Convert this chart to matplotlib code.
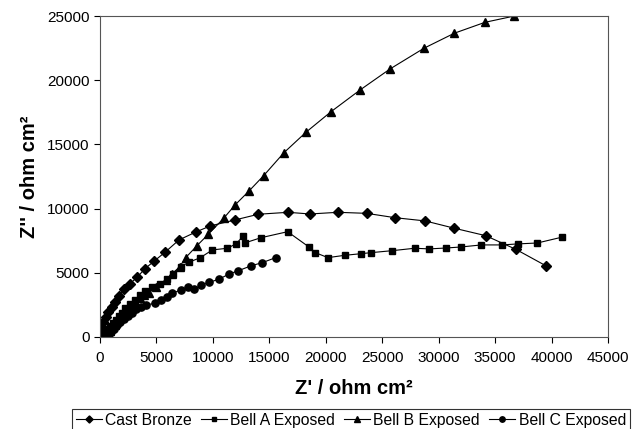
import matplotlib
matplotlib.use("Agg")
import matplotlib.pyplot as plt

plt.rcParams['font.family'] = ['Liberation Sans', 'DejaVu Sans']

# Nyquist data (Z' and Z'' in ohm cm2)
bronze_x = [0, 20, 90, 270, 500, 740, 1040, 1330, 1680, 2150, 2630, 3310, 3960, 4810, 5760,
            7000, 8500, 9770, 11930, 14030, 16660, 18600, 21060, 23620, 26140, 28800,
            31390, 34170, 36830, 39490]
bronze_y = [0, 410, 800, 1190, 1580, 1970, 2360, 2750, 3190, 3720, 4130, 4670, 5300, 5920,
            6600, 7560, 8180, 8650, 9110, 9560, 9710, 9580, 9710, 9630, 9290, 9040, 8470,
            7890, 6830, 5550]

bell_a_x = [300, 500, 700, 900, 1150, 1400, 1700, 1950, 2210, 2660, 3100, 3540, 3990, 4640,
            5320, 5910, 6500, 7150, 7880, 8890, 9950, 11280, 12080, 12670, 12880, 14250,
            16620, 18540, 19070, 20190, 21670, 23150, 24030, 25860, 27870, 29170, 30650,
            31980, 33780, 35610, 37030, 38740, 40900]
bell_a_y = [100, 350, 600, 850, 1100, 1350, 1600, 1900, 2230, 2570, 2880, 3270, 3580, 3870,
            4100, 4490, 4880, 5480, 5820, 6180, 6780, 6910, 7270, 7860, 7340, 7730,
            8200, 6990, 6570, 6180, 6360, 6490, 6570, 6720, 6910, 6860, 6930,
            7010, 7170, 7170, 7250, 7320, 7770]

bell_b_x = [500, 700, 900, 1100, 1300, 1550, 1800, 2100, 2400, 2750, 3100, 3500, 3900, 4340,
            4930, 5820, 6350, 7060, 7590, 8590, 9590, 10960, 11960, 13200, 14500, 16300,
            18250, 20470, 23040, 25700, 28700, 31390, 34110, 36710]
bell_b_y = [0, 200, 450, 700, 950, 1250, 1550, 1850, 2150, 2450, 2750, 3050, 3250, 3430,
            3920, 4440, 4880, 5480, 6180, 7110, 8000, 9250, 10280, 11370, 12570, 14360,
            15950, 17550, 19240, 20880, 22490, 23660, 24510, 25000]

bell_c_x = [600, 800, 1000, 1250, 1500, 1800, 2100, 2450, 2800, 3200, 3650, 4100, 4870,
            5370, 5910, 6400, 7150, 7820, 8350, 8970, 9680, 10510, 11450, 12250, 13400,
            14380, 15560]
bell_c_y = [0, 200, 400, 650, 900, 1150, 1400, 1650, 1900, 2150, 2350, 2500, 2620,
            2880, 3140, 3400, 3660, 3870, 3720, 4030, 4260, 4490, 4910, 5160, 5550,
            5790, 6180]

fig = plt.figure(figsize=(6.33, 4.29), dpi=100)
ax = fig.add_axes([0.158, 0.2145, 0.8025, 0.7482])

style = dict(color='black', linewidth=0.8, markeredgecolor='black', markerfacecolor='black')
ax.plot(bronze_x, bronze_y, marker='D', markersize=4.8, label='Cast Bronze', **style)
ax.plot(bell_a_x, bell_a_y, marker='s', markersize=4.8, label='Bell A Exposed', **style)
ax.plot(bell_b_x, bell_b_y, marker='^', markersize=6.2, label='Bell B Exposed', **style)
ax.plot(bell_c_x, bell_c_y, marker='o', markersize=5.2, label='Bell C Exposed', **style)

ax.set_xlim(0, 45000)
ax.set_ylim(0, 25000)
ax.set_xticks(range(0, 45001, 5000))
ax.set_yticks(range(0, 25001, 5000))
ax.tick_params(direction='out', length=4, width=0.8, labelsize=11, colors='black')
ax.tick_params(axis='x', pad=6)
for s in ax.spines.values():
    s.set_linewidth(0.8)
    s.set_color('#555555')

ax.set_xlabel("Z' / ohm cm²", fontsize=14.5, fontweight='bold', labelpad=10)
ax.set_ylabel("Z'' / ohm cm²", fontsize=14.5, fontweight='bold', labelpad=6)

leg = fig.legend(loc='upper left', bbox_to_anchor=(0.1137, 0.0466), ncol=4, fontsize=11.3,
                 frameon=True, fancybox=False, edgecolor='black', handlelength=1.65,
                 handletextpad=0.2, columnspacing=0.6, borderpad=0.25, borderaxespad=0,
                 markerscale=0.75)
leg.get_frame().set_linewidth(0.8)

fig.savefig('out.png', dpi=100, facecolor='white')
